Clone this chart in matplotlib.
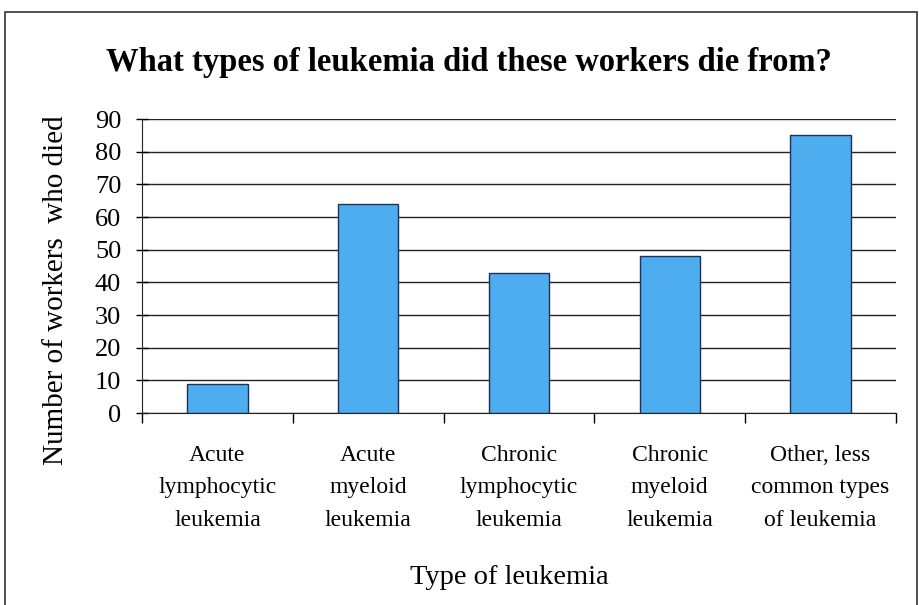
import matplotlib
matplotlib.use("Agg")
import matplotlib.pyplot as plt
from matplotlib.patches import Rectangle

categories = ["Acute\nlymphocytic\nleukemia", "Acute\nmyeloid\nleukemia",
              "Chronic\nlymphocytic\nleukemia", "Chronic\nmyeloid\nleukemia",
              "Other, less\ncommon types\nof leukemia"]
deaths = [9, 64, 43, 48, 85]
yticks = [0, 10, 20, 30, 40, 50, 60, 70, 80, 90]

plt.rcParams['font.family'] = ['Liberation Serif', 'DejaVu Serif']

fig = plt.figure(figsize=(9.19, 6.05), dpi=100)
fig.patch.set_facecolor('white')
fig.patches.append(Rectangle((5/919, -0.1), (912/919), (605-12)/605 + 0.1,
                             transform=fig.transFigure, fill=False,
                             edgecolor='#333333', linewidth=1.2))

ax = fig.add_axes([142/919, (605-413)/605, (896-142)/919, (413-119)/605])
x = list(range(len(categories)))
ax.bar(x, deaths, width=0.4, color='#4DADEE', edgecolor='#1F2F5A', linewidth=1.0, zorder=3)
ax.set_xlim(-0.5, len(categories) - 0.5)
ax.set_ylim(0, 90)
ax.set_yticks(yticks)
ax.set_yticklabels([str(v) for v in yticks], fontsize=19)
ax.yaxis.grid(True, color='#222222', linewidth=1.0, zorder=0)
ax.set_axisbelow(True)
ax.tick_params(axis='y', direction='inout', length=8, width=1, pad=11)
ax.set_xticks([i + 0.5 for i in range(-1, len(categories))], minor=False)
ax.set_xticklabels([])
ax.tick_params(axis='x', which='major', direction='out', length=7, width=1)
ax.set_xticks(x, minor=True)
ax.set_xticklabels(categories, minor=True, fontsize=17, linespacing=1.72)
ax.tick_params(axis='x', which='minor', length=0, pad=23)
for s in ['top', 'right']:
    ax.spines[s].set_visible(False)
for s in ['left', 'bottom']:
    ax.spines[s].set_color('#222222')

ax.set_ylabel("Number of workers  who died", fontsize=21)
ax.yaxis.set_label_coords(-0.097, 0.418)
fig.text(509/919, (605-578)/605, "Type of leukemia", ha='center', va='center', fontsize=20.5)
fig.text(0.510, (605-63)/605, "What types of leukemia did these workers die from?",
         ha='center', va='center', fontsize=23.5, fontweight='bold')

fig.savefig("out.png", dpi=100, facecolor='white')
